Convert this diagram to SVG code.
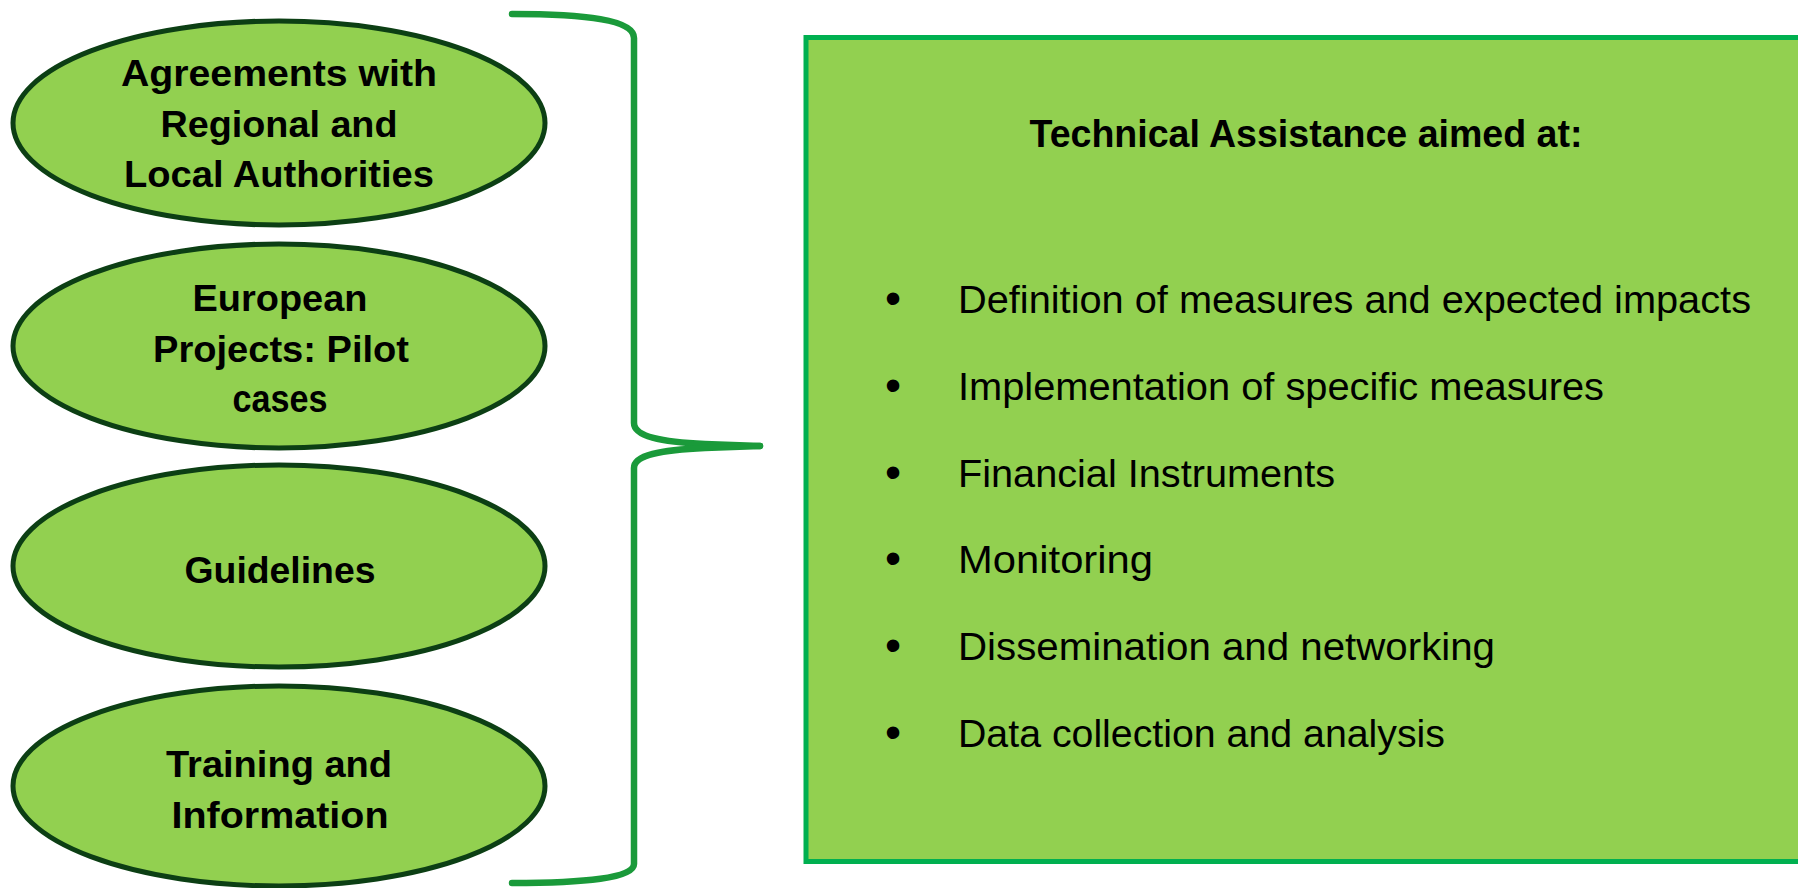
<svg xmlns="http://www.w3.org/2000/svg" width="1798" height="888" viewBox="0 0 1798 888">
<style>
.node ellipse{fill:#92d050;stroke:#0c3f14;stroke-width:5}
.lbl{font-family:"Liberation Sans",Arial,sans-serif;font-weight:bold;font-size:36px;fill:#000;text-anchor:middle}
.item{font-family:"Liberation Sans",Arial,sans-serif;font-size:38px;fill:#000}
.bul{font-family:"Liberation Sans",Arial,sans-serif;font-size:46px;fill:#000;text-anchor:middle}
.brace{fill:none;stroke:#1a9a3a;stroke-width:6.5;stroke-linecap:round;stroke-linejoin:round}
</style>
<rect width="1798" height="888" fill="#fff"/>
<g id="node-agreements" class="node">
<ellipse cx="279" cy="123" rx="266" ry="102"/>
<text class="lbl" x="279" y="86" textLength="316" lengthAdjust="spacingAndGlyphs">Agreements with</text>
<text class="lbl" x="279" y="137" textLength="237" lengthAdjust="spacingAndGlyphs">Regional and</text>
<text class="lbl" x="279" y="187" textLength="310" lengthAdjust="spacingAndGlyphs">Local Authorities</text>
</g>
<g id="node-european" class="node">
<ellipse cx="279" cy="346" rx="266" ry="102"/>
<text class="lbl" x="280" y="311" textLength="175" lengthAdjust="spacingAndGlyphs">European</text>
<text class="lbl" x="281" y="362" textLength="256" lengthAdjust="spacingAndGlyphs">Projects: Pilot</text>
<text class="lbl" x="280" y="412" style="font-size:38px" textLength="95" lengthAdjust="spacingAndGlyphs">cases</text>
</g>
<g id="node-guidelines" class="node">
<ellipse cx="279" cy="566" rx="266" ry="101"/>
<text class="lbl" x="280" y="583" textLength="191" lengthAdjust="spacingAndGlyphs">Guidelines</text>
</g>
<g id="node-training" class="node">
<ellipse cx="279" cy="786" rx="266" ry="100"/>
<text class="lbl" x="279" y="777" textLength="226" lengthAdjust="spacingAndGlyphs">Training and</text>
<text class="lbl" x="280" y="828" textLength="217" lengthAdjust="spacingAndGlyphs">Information</text>
</g>
<g id="connectors">
<path class="brace" d="M512 14 C585 14 634 20 634 38 L634 423 C634 436 660 442 705 444 L760 446"/>
<path class="brace" d="M760 446 L705 448 C660 450 634 455 634 468 L634 864 C634 878 585 883 512 883"/>
</g>
<g id="node-technical">
<rect x="806" y="37.5" width="1020" height="824" fill="#92d050" stroke="#00b050" stroke-width="5"/>
<text class="lbl" x="1306" y="147" style="font-size:38px" textLength="553" lengthAdjust="spacingAndGlyphs">Technical Assistance aimed at:</text>
<text class="bul" x="893" y="314">•</text>
<text class="item" x="958" y="313" textLength="793" lengthAdjust="spacingAndGlyphs">Definition of measures and expected impacts</text>
<text class="bul" x="893" y="401">•</text>
<text class="item" x="958" y="400" textLength="646" lengthAdjust="spacingAndGlyphs">Implementation of specific measures</text>
<text class="bul" x="893" y="488">•</text>
<text class="item" x="958" y="487" textLength="377" lengthAdjust="spacingAndGlyphs">Financial Instruments</text>
<text class="bul" x="893" y="574">•</text>
<text class="item" x="958" y="573" textLength="195" lengthAdjust="spacingAndGlyphs">Monitoring</text>
<text class="bul" x="893" y="661">•</text>
<text class="item" x="958" y="660" textLength="537" lengthAdjust="spacingAndGlyphs">Dissemination and networking</text>
<text class="bul" x="893" y="748">•</text>
<text class="item" x="958" y="747" textLength="487" lengthAdjust="spacingAndGlyphs">Data collection and analysis</text>
</g>
</svg>
